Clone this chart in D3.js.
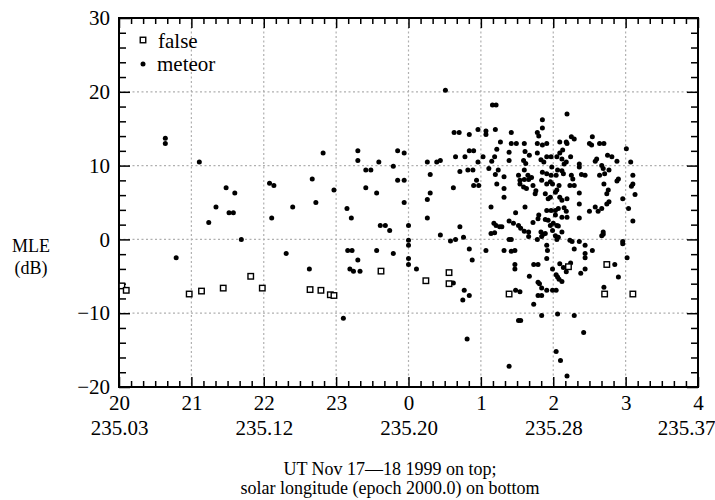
<!DOCTYPE html>
<html>
<head>
<meta charset="utf-8">
<script src="https://cdn.jsdelivr.net/npm/d3@7"></script>
<style>
  body { margin: 0; background: #fff; }
  svg { display: block; }
  svg text { font-family: 'Liberation Serif', 'DejaVu Serif', serif !important; fill: #000; }
</style>
</head>
<body>
<svg id="chart" width="715" height="500"></svg>
<script>
// UT hour ticks (hours counted from 0 UT Nov 17; 24 = 0 UT Nov 18)
const hourTicks = [20, 21, 22, 23, 24, 25, 26, 27, 28];
const hourLabels = ["20", "21", "22", "23", "0", "1", "2", "3", "4"];
// solar longitude labels under every second hour
const solarTicks = [20, 22, 24, 26, 28];
const solarLabels = ["235.03", "235.12", "235.20", "235.28", "235.37"];
const mleTicks = [-20, -10, 0, 10, 20, 30];

// false echoes: [UT hour, MLE dB]
const falseEchoes = [
  [20.04, -6.3], [20.10, -6.9], [20.97, -7.4], [21.14, -7.0], [21.44, -6.6],
  [21.82, -5.0], [21.98, -6.6], [22.64, -6.8], [22.79, -6.9], [22.92, -7.5],
  [22.97, -7.6], [23.62, -4.3], [24.24, -5.6], [24.56, -4.5], [24.56, -6.0],
  [25.39, -7.4], [26.21, -3.7], [26.74, -3.4], [26.71, -7.4], [27.10, -7.4]
];

// meteor echoes: [UT hour, MLE dB]
const meteors = [
  [20.64, 13.7], [20.64, 13.0], [21.11, 10.5], [21.48, 7.0], [21.60, 6.3], [22.08, 7.6], [22.14, 7.3],
  [21.34, 4.4], [21.52, 3.6], [21.58, 3.6], [21.24, 2.3], [21.69, 0.0], [22.11, 2.9], [22.40, 4.4],
  [22.31, -1.9], [20.79, -2.5],
  [24.51, 20.2], [22.82, 11.7], [23.30, 12.0], [23.30, 10.7], [23.41, 9.4], [23.48, 9.4], [23.59, 10.5],
  [23.79, 9.9], [23.85, 12.0], [23.94, 11.7], [22.67, 8.2], [22.97, 6.7], [23.41, 7.0], [23.56, 6.3],
  [23.85, 8.0], [23.94, 8.0], [24.26, 10.5], [24.39, 10.5], [24.44, 10.7], [24.30, 8.8], [24.65, 11.2],
  [24.78, 11.2], [24.63, 14.5], [24.70, 14.5], [24.84, 14.2], [24.71, 9.2], [24.62, 7.0], [24.30, 6.3],
  [24.26, 5.4], [23.94, 5.0], [22.72, 5.0], [23.15, 4.2], [23.21, 2.9], [23.61, 1.9], [23.68, 1.9],
  [23.74, 1.2], [24.00, 1.9], [24.26, 2.9], [24.44, 0.6], [24.58, -0.2], [24.65, 0.0], [24.71, 1.7],
  [24.76, 0.3], [24.84, -1.3], [24.88, -2.8], [24.00, -0.1], [24.00, -0.8], [24.00, -2.6], [24.00, -3.4],
  [23.16, -1.5], [23.22, -1.5], [23.56, -1.5], [23.79, -1.9], [23.30, -2.8], [23.19, -4.0], [23.24, -4.3],
  [23.33, -4.3], [22.63, -4.0], [24.11, -4.0], [23.10, -10.7], [24.77, -6.9], [24.62, -5.9], [24.75, -8.2],
  [24.84, -7.6], [24.81, -13.5],
  [25.16, 18.2], [25.21, 18.2], [25.85, 16.2], [24.96, 14.9], [25.07, 14.7], [25.07, 14.2], [25.20, 14.9],
  [25.42, 14.5], [25.78, 14.5], [25.80, 14.0], [25.85, 15.1], [25.27, 13.2], [25.42, 13.0], [25.49, 13.0],
  [25.60, 13.0], [25.78, 13.0], [25.85, 12.8], [25.91, 13.0], [24.84, 12.0], [24.90, 12.0], [25.03, 11.2],
  [25.22, 12.2], [25.39, 11.8], [25.61, 11.9], [25.67, 11.4], [25.78, 11.7], [25.91, 11.2], [25.97, 11.2],
  [24.96, 10.5], [25.15, 10.6], [25.19, 11.2], [25.39, 10.7], [25.59, 10.7], [25.62, 10.3], [25.83, 10.8],
  [25.87, 10.5], [24.82, 9.4], [24.89, 9.4], [25.11, 9.6], [25.24, 9.4], [25.60, 9.4], [25.52, 8.7],
  [25.65, 8.7], [25.70, 8.4], [25.85, 9.1], [25.91, 8.9], [25.97, 8.7], [25.20, 8.8], [25.32, 8.5],
  [25.54, 8.0], [25.60, 8.1], [25.66, 8.1], [24.94, 8.0], [24.90, 7.3], [24.97, 7.3], [25.22, 7.5],
  [25.54, 7.5], [25.59, 7.1], [25.63, 6.9], [25.72, 7.3], [25.76, 6.6], [25.84, 8.0], [25.91, 7.5],
  [25.96, 7.8], [25.32, 6.9], [25.32, 5.7], [25.75, 6.2], [25.89, 6.2], [25.93, 5.5], [25.61, 4.4],
  [25.14, 4.4], [25.48, 3.6], [25.91, 3.9], [25.97, 3.9], [25.80, 3.3], [25.79, 2.8], [25.89, 2.7],
  [25.93, 2.6], [25.39, 2.5], [25.45, 2.2], [25.52, 1.9], [25.55, 1.5], [25.60, 1.1], [25.66, 1.0],
  [25.72, 2.3], [25.18, 2.2], [25.21, 1.9], [25.26, 1.7], [25.29, 1.7], [25.14, 0.8], [25.19, 0.9],
  [25.83, 1.0], [25.89, 0.8], [25.96, 1.9], [25.99, 1.2], [25.39, 0.0], [25.42, 0.0], [25.66, 0.4],
  [25.78, 0.0], [25.84, 0.4], [25.86, 0.7],
  [25.07, -1.5], [25.32, -1.5], [25.42, -1.6], [25.47, -1.5], [25.91, -0.8], [25.92, -1.5], [25.91, -2.6],
  [25.47, -3.4], [25.47, -4.0], [25.73, -3.4], [25.79, -3.4], [25.99, -4.0], [25.67, -5.0], [25.79, -5.8],
  [25.81, -6.0], [25.84, -6.6], [25.79, -7.6], [25.84, -7.6], [25.91, -6.9], [25.99, -6.9], [25.48, -6.9],
  [25.54, -7.1], [25.73, -8.8], [25.84, -10.3], [25.52, -11.0], [25.55, -11.0], [25.39, -17.2],
  [26.19, 17.0], [26.25, 13.9], [26.29, 13.6], [26.09, 13.2], [26.18, 13.2], [26.19, 13.0], [26.54, 13.9],
  [26.50, 13.0], [26.53, 12.8], [26.64, 13.0], [26.70, 13.0], [27.01, 12.3], [26.13, 12.1], [26.09, 11.7],
  [26.05, 11.2], [26.24, 11.2], [26.12, 10.9], [26.18, 10.5], [26.15, 10.2], [26.75, 11.4], [26.81, 11.2],
  [26.60, 10.9], [26.58, 10.6], [26.88, 10.6], [27.07, 10.5], [26.36, 10.2], [26.36, 9.8], [26.67, 10.0],
  [26.69, 9.6], [26.71, 8.9], [26.77, 9.4], [25.98, 9.8], [26.06, 9.4], [26.12, 9.3], [26.04, 8.7],
  [26.14, 8.9], [26.25, 8.7], [26.27, 8.2], [26.39, 8.8], [26.44, 8.7], [26.64, 8.7], [27.10, 8.7],
  [27.10, 7.5], [27.08, 7.2], [26.90, 8.2], [26.88, 7.9], [26.70, 7.5], [25.99, 7.5], [26.08, 7.3],
  [26.23, 7.3], [26.29, 7.3], [26.05, 6.7], [26.03, 6.4], [26.76, 6.7], [26.74, 6.2], [26.36, 6.3],
  [27.13, 6.1], [25.96, 5.7], [26.09, 5.7], [26.12, 5.3], [26.19, 5.5], [26.96, 5.5], [26.77, 5.1],
  [26.74, 4.8], [26.36, 4.8], [27.04, 4.2], [26.58, 4.4], [26.50, 3.8], [26.62, 3.8], [26.67, 4.2],
  [26.03, 3.9], [26.07, 4.2], [26.15, 4.3], [26.18, 3.8], [26.03, 3.3], [26.12, 3.0], [26.19, 3.0],
  [26.36, 2.9], [27.10, 2.5], [26.00, 2.2], [26.05, 1.9], [26.07, 1.8], [26.69, 1.0], [26.69, 0.7],
  [26.12, 1.0], [26.03, 0.5],
  [26.05, 0.0], [26.07, 0.3], [26.23, -0.1], [26.26, -0.3], [26.36, -0.3], [26.67, 0.5], [26.96, -0.3],
  [26.96, -0.6], [26.29, -1.3], [26.44, -0.8], [26.54, -1.5], [26.44, -1.9], [26.44, -2.5], [27.02, -2.5],
  [26.09, -3.3], [26.14, -3.8], [26.24, -3.2], [26.44, -4.0], [26.18, -4.4], [26.38, -4.6], [26.85, -3.4],
  [26.90, -5.1], [26.04, -4.8], [26.06, -5.1], [26.08, -5.4], [26.12, -5.7], [26.70, -6.5], [26.04, -6.9],
  [26.06, -10.1], [26.29, -10.3], [26.42, -12.6], [26.04, -15.2], [26.10, -16.4], [26.19, -18.5]
];

const FONT = "'Liberation Serif', 'DejaVu Serif', serif";
const svg = d3.select("#chart");
const plot = { left: 119, right: 698, top: 18, bottom: 387 };

const x = d3.scaleLinear().domain([20, 28]).range([plot.left, plot.right]);
const y = d3.scaleLinear().domain([-20, 30]).range([plot.bottom, plot.top]);

// minor tick positions: every 10 minutes on x, every 2 dB on y
const xMinor = d3.range(20, 28.0001, 1 / 6).filter(v => Math.abs(v - Math.round(v)) > 1e-6);
const yMinor = d3.range(-20, 30.0001, 2).filter(v => v % 10 !== 0);

// dotted grid at the major ticks
const grid = svg.append("g").attr("stroke", "#b0b0b0").attr("stroke-width", 1.2)
  .attr("stroke-dasharray", "2,2.5");
grid.selectAll("line.vx").data(hourTicks.slice(1, -1)).join("line")
  .attr("x1", d => x(d)).attr("x2", d => x(d))
  .attr("y1", plot.top).attr("y2", plot.bottom);
grid.selectAll("line.hy").data(mleTicks.slice(1, -1)).join("line")
  .attr("x1", plot.left).attr("x2", plot.right)
  .attr("y1", d => y(d)).attr("y2", d => y(d));

function styleAxis(g) {
  g.attr("font-family", FONT);
  g.select(".domain").remove();
  g.selectAll(".tick line").attr("stroke", "#000").attr("stroke-width", 1.5);
  g.selectAll("text").style("font-family", FONT).attr("fill", "#000").attr("font-size", 21);
}

// bottom axis: UT hours
svg.append("g").attr("transform", `translate(0,${plot.bottom})`)
  .call(d3.axisBottom(x).tickValues(hourTicks).tickFormat((d, i) => hourLabels[i])
    .tickSize(-10).tickPadding(8))
  .call(styleAxis);
svg.append("g").attr("transform", `translate(0,${plot.bottom})`)
  .call(d3.axisBottom(x).tickValues(xMinor).tickFormat("").tickSize(-6))
  .call(styleAxis);

// second row: solar longitude
svg.append("g").attr("transform", `translate(0,${plot.bottom})`)
  .call(d3.axisBottom(x).tickValues(solarTicks).tickFormat((d, i) => solarLabels[i])
    .tickSize(0).tickPadding(33.5))
  .call(styleAxis)
  .call(g => g.selectAll(".tick:last-of-type text").attr("text-anchor", "end").attr("dx", 17));

// top axis (ticks only)
svg.append("g").attr("transform", `translate(0,${plot.top})`)
  .call(d3.axisTop(x).tickValues(hourTicks).tickFormat("").tickSize(-10))
  .call(styleAxis);
svg.append("g").attr("transform", `translate(0,${plot.top})`)
  .call(d3.axisTop(x).tickValues(xMinor).tickFormat("").tickSize(-6))
  .call(styleAxis);

// left axis: MLE
svg.append("g").attr("transform", `translate(${plot.left},0)`)
  .call(d3.axisLeft(y).tickValues(mleTicks).tickFormat(d3.format("d")).tickSize(-11).tickPadding(9))
  .call(styleAxis);
svg.append("g").attr("transform", `translate(${plot.left},0)`)
  .call(d3.axisLeft(y).tickValues(yMinor).tickFormat("").tickSize(-7))
  .call(styleAxis);

// right axis (ticks only)
svg.append("g").attr("transform", `translate(${plot.right},0)`)
  .call(d3.axisRight(y).tickValues(mleTicks).tickFormat("").tickSize(-11))
  .call(styleAxis);
svg.append("g").attr("transform", `translate(${plot.right},0)`)
  .call(d3.axisRight(y).tickValues(yMinor).tickFormat("").tickSize(-7))
  .call(styleAxis);

// frame
svg.append("rect")
  .attr("x", plot.left).attr("y", plot.top)
  .attr("width", plot.right - plot.left).attr("height", plot.bottom - plot.top)
  .attr("fill", "none").attr("stroke", "#000").attr("stroke-width", 2);

// meteor echoes
svg.append("g").selectAll("circle").data(meteors).join("circle")
  .attr("cx", d => x(d[0])).attr("cy", d => y(d[1])).attr("r", 2.5)
  .attr("fill", "#000");

// false echoes
const sq = 5.5;
svg.append("g").selectAll("rect").data(falseEchoes).join("rect")
  .attr("x", d => x(d[0]) - sq / 2).attr("y", d => y(d[1]) - sq / 2)
  .attr("width", sq).attr("height", sq)
  .attr("fill", "#fff").attr("stroke", "#000").attr("stroke-width", 1.4);

// legend
const legend = svg.append("g").attr("font-size", 21);
legend.append("rect").attr("x", 143 - sq / 2).attr("y", 40 - sq / 2).attr("width", sq).attr("height", sq)
  .attr("fill", "#fff").attr("stroke", "#000").attr("stroke-width", 1.4);
legend.append("text").attr("x", 158).attr("y", 48).style("font-family", FONT).text("false");
legend.append("circle").attr("cx", 143).attr("cy", 64).attr("r", 2.5).attr("fill", "#000");
legend.append("text").attr("x", 157).attr("y", 71).style("font-family", FONT).text("meteor");

// y title
const yTitle = svg.append("text").attr("text-anchor", "middle").attr("font-size", 18)
  .style("font-family", FONT);
yTitle.append("tspan").attr("x", 31).attr("y", 252).text("MLE");
yTitle.append("tspan").attr("x", 31).attr("y", 274).text("(dB)");

// x caption
const cap = svg.append("text").attr("text-anchor", "middle").attr("font-size", 18)
  .style("font-family", FONT);
cap.append("tspan").attr("x", 390).attr("y", 475).text("UT Nov 17\u201418 1999 on top;");
cap.append("tspan").attr("x", 390).attr("y", 494).text("solar longitude (epoch 2000.0) on bottom");
</script>
</body>
</html>
